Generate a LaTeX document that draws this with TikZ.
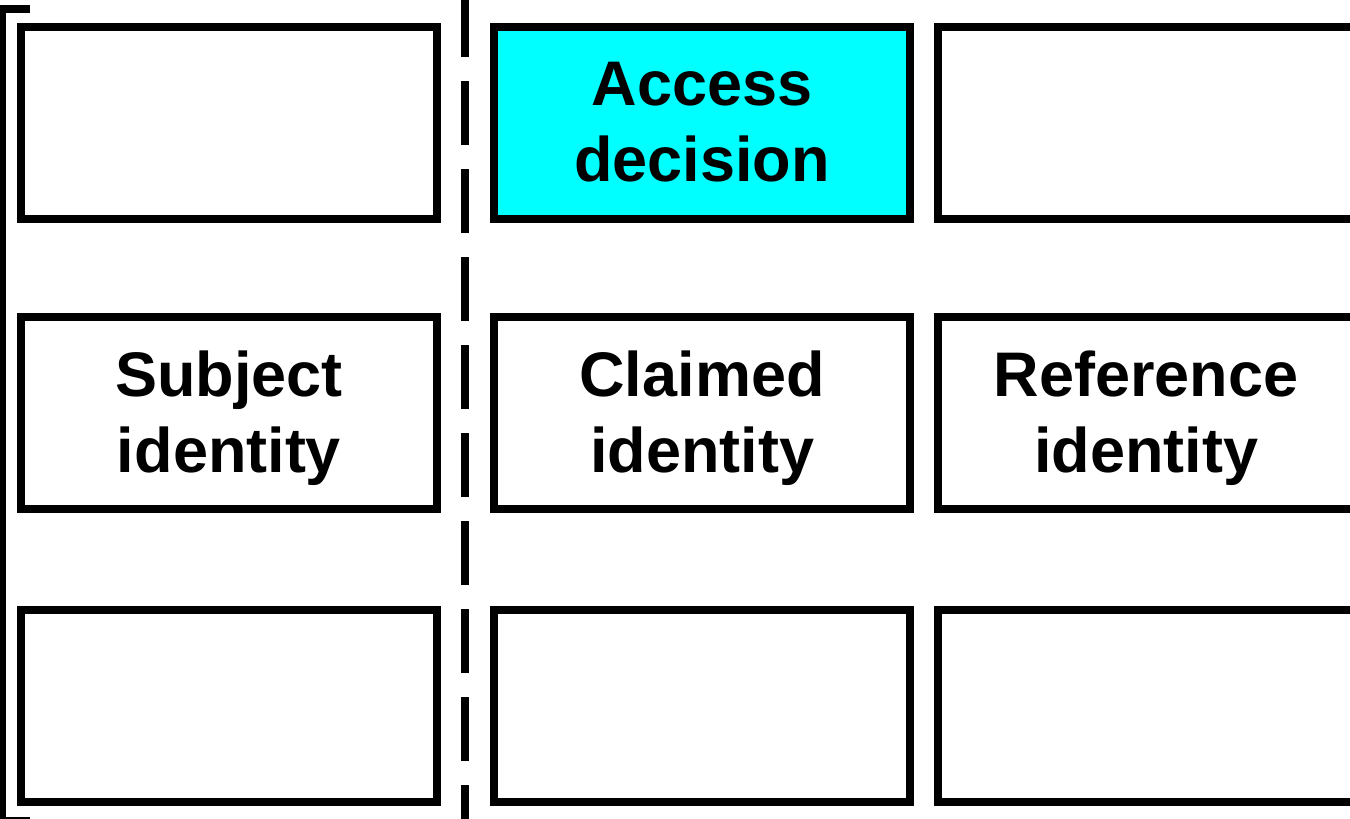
\documentclass[tikz,border=0pt]{standalone}
\usepackage{fontspec}
\setmainfont{Liberation Sans}
\definecolor{decisioncyan}{RGB}{0,255,255}
\tikzset{
  cell/.style={draw=black,line width=8pt,minimum width=416pt,minimum height=192pt,
    inner sep=0pt,align=center,text depth=3pt,font=\fontsize{63}{76}\selectfont\bfseries},
  divider/.style={line width=8pt,dash pattern=on 64pt off 24pt},
}
\begin{document}
\begin{tikzpicture}[x=1pt,y=-1pt]
 \def\cA{229}
 \def\cB{702}
 \def\cC{1146}
 \def\rA{123}
 \def\rB{413}
 \def\rC{706}

 \useasboundingbox (0,0) rectangle (1350,819);

 % top row
 \node[cell] (topleft) at (\cA,\rA) {};
 \node[cell,fill=decisioncyan] (decision) at (\cB,\rA) {Access\\decision};
 \node[cell] (topright) at (\cC,\rA) {};

 % middle row
 \node[cell] (subject) at (\cA,\rB) {Subject\\identity};
 \node[cell] (claimed) at (\cB,\rB) {Claimed\\identity};
 \node[cell] (reference) at (\cC,\rB) {Reference\\identity};

 % bottom row
 \node[cell] (botleft) at (\cA,\rC) {};
 \node[cell] (botmid) at (\cB,\rC) {};
 \node[cell] (botright) at (\cC,\rC) {};

 \coordinate (divtop) at (465,-7);
 \coordinate (divbot) at (465,830);
 \draw[divider] (divtop) -- (divbot);

 \coordinate (brtop) at (30,9);
 \coordinate (brbot) at (30,821);
 \draw[line width=8pt] (brtop) -- (2,9) -- (2,821) -- (brbot);
\end{tikzpicture}
\end{document}
